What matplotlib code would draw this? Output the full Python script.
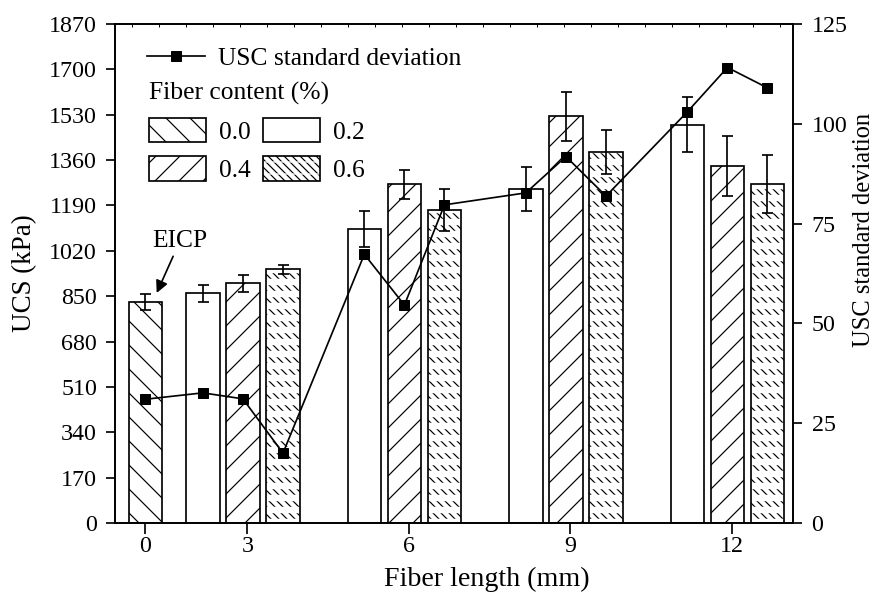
import numpy as np
import matplotlib
matplotlib.use('Agg')
import matplotlib.pyplot as plt

plt.rcParams['font.family'] = ['Liberation Serif', 'DejaVu Serif']
plt.rcParams['hatch.linewidth'] = 1.2

# data
length_labels = ['0', '3', '6', '9', '12']
content_labels = ['0.0', '0.2', '0.4', '0.6']
eicp_ucs = 829          # 0 mm, 0.0 % fiber (pure EICP)
ucs_02 = [861, 1102, 1253, 1492]
ucs_04 = [898, 1270, 1524, 1338]
ucs_06 = [951, 1173, 1391, 1271]
sd_eicp = 31.0
sd_02 = [32.6, 67.3, 82.7, 103.0]
sd_04 = [31.1, 54.6, 91.8, 114.1]
sd_06 = [17.5, 79.7, 81.9, 109.0]

# bar slots (categorical layout)
w = 0.83
x_eicp = 0.0
group_x = 2.41 + 3.99 * np.arange(4)
x02 = group_x - 0.99
x04 = group_x
x06 = group_x + 0.99
tick_x = np.concatenate([[x_eicp], group_x + 0.11])

# all points in plotting order
xs = [x_eicp]
ys = [eicp_ucs]
sds = [sd_eicp]
for i in range(4):
    xs += [x02[i], x04[i], x06[i]]
    ys += [ucs_02[i], ucs_04[i], ucs_06[i]]
    sds += [sd_02[i], sd_04[i], sd_06[i]]

lw = 1.7

fig = plt.figure(figsize=(875 / 72, 598 / 72), dpi=72)
ax = fig.add_axes([115 / 875, 75 / 598, 678 / 875, 499 / 598])

b00 = ax.bar(x_eicp, eicp_ucs, w, facecolor='white', edgecolor='black', lw=lw, hatch='\\')
b02 = ax.bar(x02, ucs_02, w, facecolor='white', edgecolor='black', lw=lw)
b04 = ax.bar(x04, ucs_04, w, facecolor='white', edgecolor='black', lw=lw, hatch='/')
# dotted texture: dense backslashes cut by white horizontal stripes
b06a = ax.bar(x06, ucs_06, w, facecolor='white', edgecolor='black', lw=0, hatch='\\\\\\')
with plt.rc_context({'hatch.linewidth': 6.5}):
    b06b = ax.bar(x06, ucs_06, w, facecolor='none', edgecolor='white', lw=0, hatch='-')
for p in b06b:
    if hasattr(p, 'set_hatch_linewidth'):
        p.set_hatch_linewidth(6.5)
b06c = ax.bar(x06, ucs_06, w, fill=False, edgecolor='black', lw=lw)

ax.errorbar(xs, ys, yerr=sds, fmt='none', ecolor='black', elinewidth=lw,
            capsize=5.5, capthick=lw, zorder=3)

ax.annotate('EICP', xy=(0.28, 862), xytext=(0.85, 1055), fontsize=25.5,
            ha='center', va='center',
            arrowprops=dict(arrowstyle='-|>,head_length=0.4,head_width=0.2',
                            color='black', lw=lw, shrinkA=2, shrinkB=0))

ax.set_xlim(-0.75, 16.0)
ax.set_ylim(0, 1870)
ax.set_yticks(np.arange(0, 1871, 170))
ax.set_xticks(tick_x, length_labels)
ax.set_xticks(np.arange(-0.34, 16.0, 0.667), minor=True)
ax.tick_params(axis='x', which='major', direction='out', length=11, width=lw,
               pad=2, labelsize=24, top=False)
ax.tick_params(axis='x', which='minor', bottom=False, top=True, direction='in',
               length=3, width=1)
ax.tick_params(axis='y', direction='out', length=9, width=lw, pad=9, labelsize=24)
for s in ax.spines.values():
    s.set_linewidth(lw)

ax.set_xlabel('Fiber length (mm)', fontsize=28)
ax.xaxis.set_label_coords(0.549, -0.088)
ax.set_ylabel('UCS (kPa)', fontsize=27)
ax.yaxis.set_label_coords(-0.115, 0.5)

ax2 = ax.twinx()
line, = ax2.plot(xs, sds, color='black', lw=lw, marker='s', ms=10,
                 label='USC standard deviation')
ax2.set_ylim(0, 125)
ax2.set_yticks(np.arange(0, 126, 25))
ax2.tick_params(axis='y', direction='out', length=9, width=lw, pad=9.5, labelsize=24)
for s in ax2.spines.values():
    s.set_linewidth(lw)
ax2.set_ylabel('USC standard deviation', fontsize=24.5)
ax2.yaxis.set_label_coords(1.0885, 0.587)

ax2.legend(handles=[line], loc='center left', bbox_to_anchor=(0.0472, 0.930),
           frameon=False, fontsize=25.5, handlelength=2.27, handletextpad=0.5,
           borderpad=0, borderaxespad=0)

handles = [b00[0], b04[0], b02[0], (b06a[0], b06b[0], b06c[0])]
labels = [content_labels[0], content_labels[2], content_labels[1], content_labels[3]]
ax.legend(handles, labels, ncol=2, loc='upper left', bbox_to_anchor=(0.050, 0.884),
          frameon=False, fontsize=25.5, title='Fiber content (%)', title_fontsize=25.5,
          alignment='left', handlelength=2.24, handleheight=1.1, handletextpad=0.5,
          columnspacing=0.5, labelspacing=0.5, borderpad=0, borderaxespad=0)

fig.savefig('out.png', dpi=72)
